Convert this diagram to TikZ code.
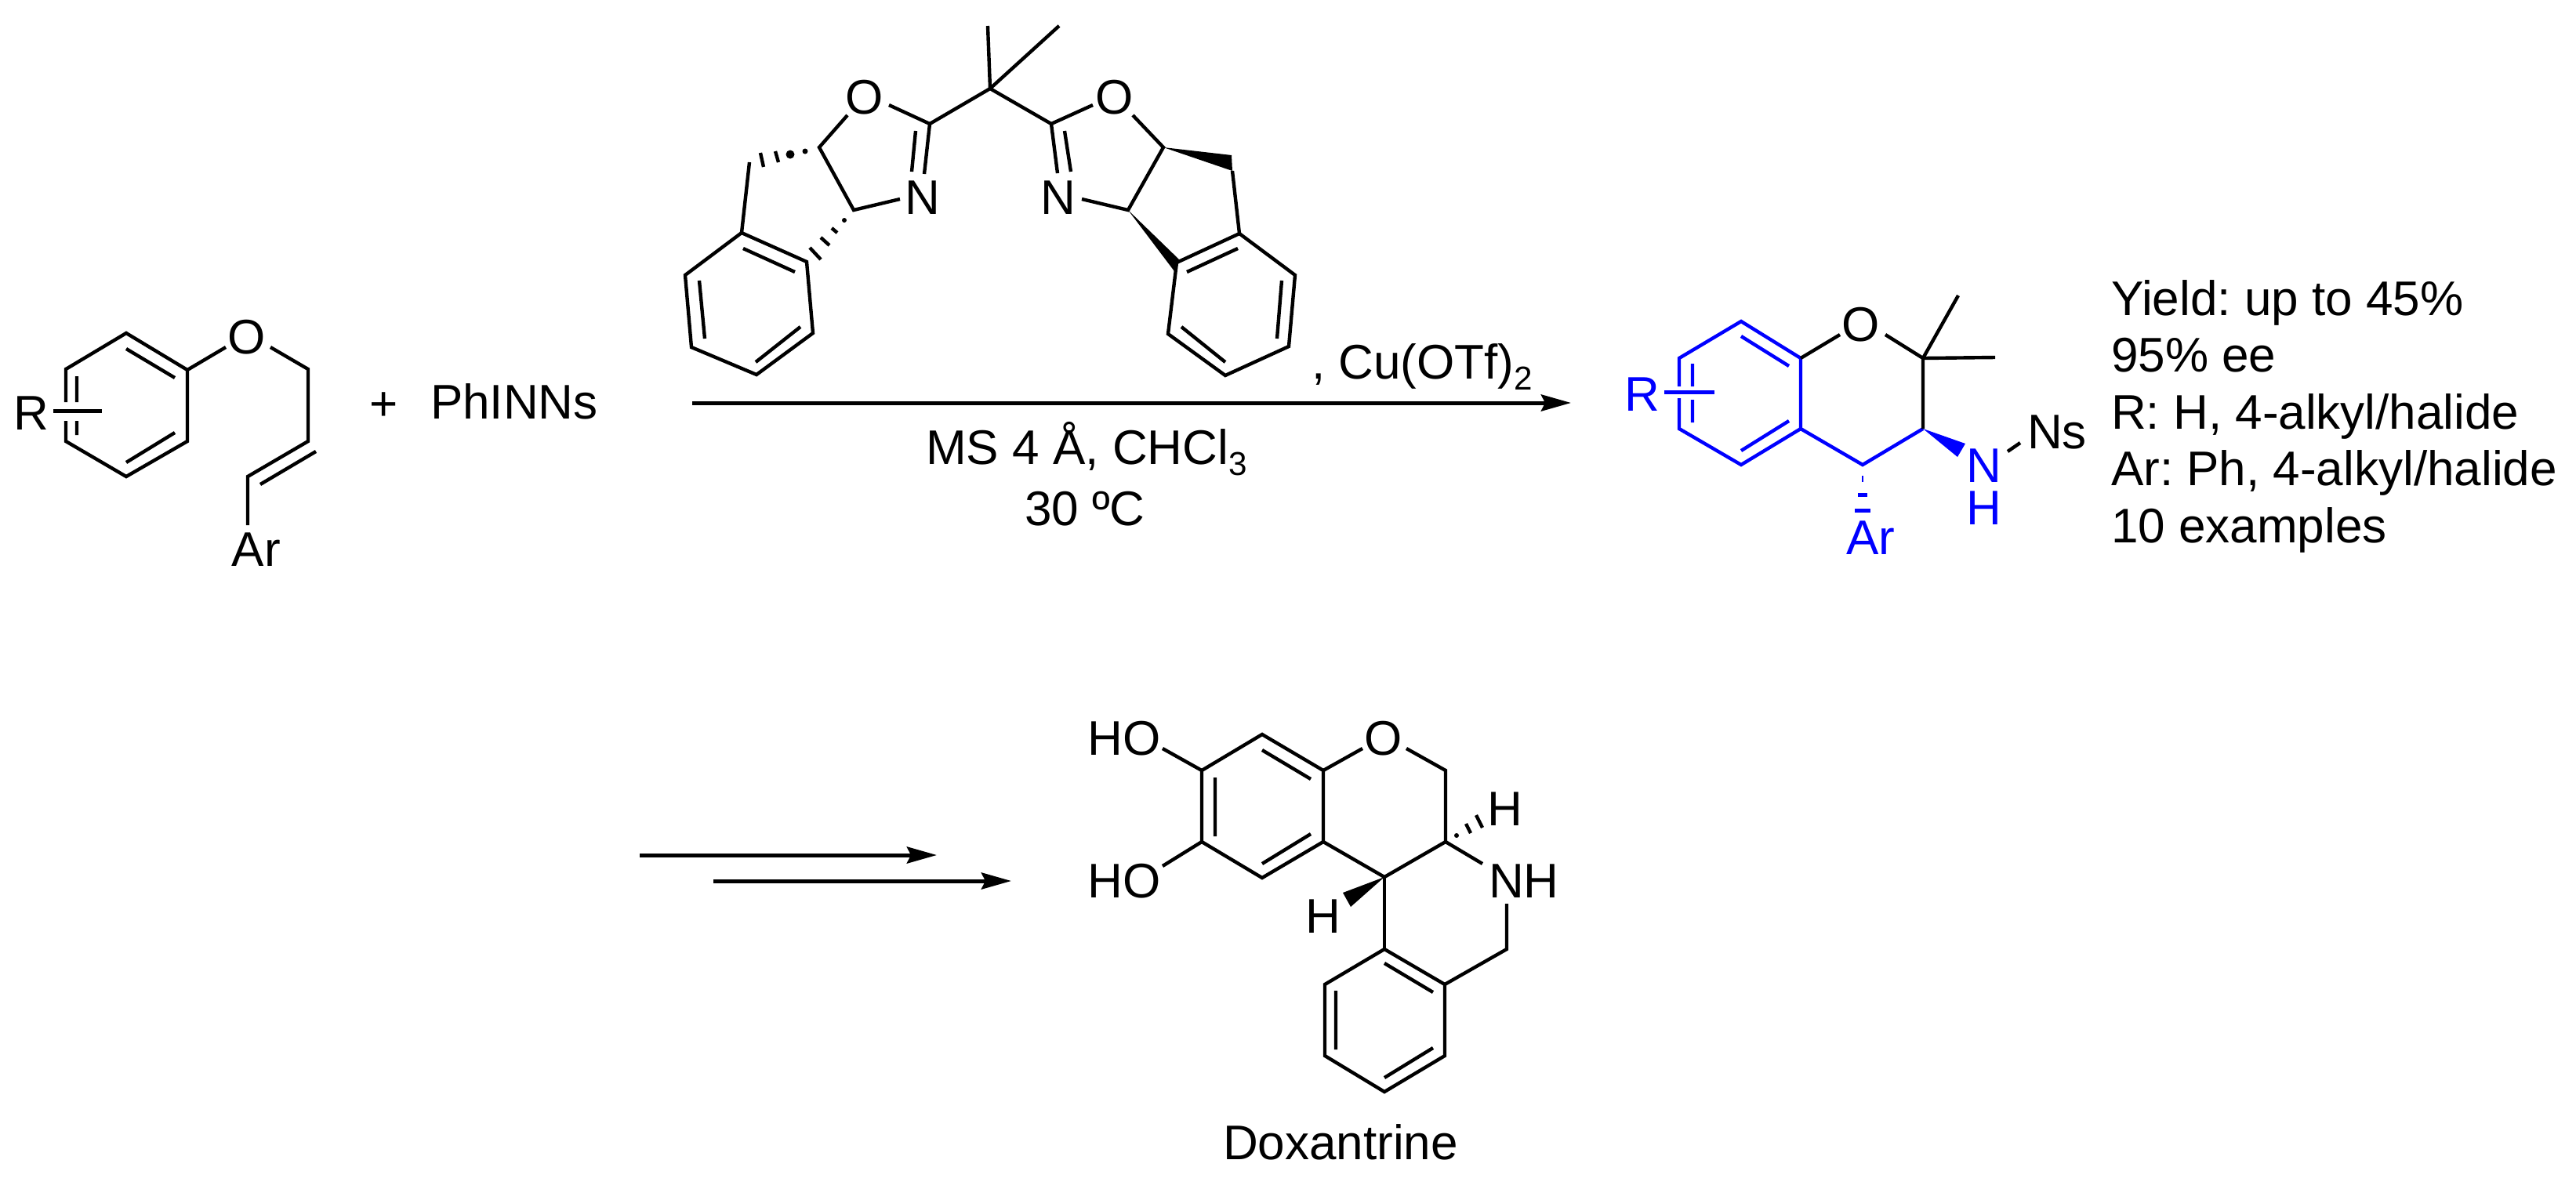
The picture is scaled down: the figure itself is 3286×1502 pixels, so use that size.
\documentclass[tikz,border=0pt]{standalone}
\usepackage{fontspec}
\setmainfont{Liberation Sans}
\usetikzlibrary{arrows.meta}
\definecolor{chemblue}{RGB}{0,0,255}
\newcommand{\chemfont}{\fontsize{17.64}{20}\selectfont\frenchspacing}
\newcommand{\subtxt}[1]{\raisebox{-0.14cm}{\fontsize{12}{14}\selectfont #1}}
\tikzset{
  atom/.style={font=\chemfont,inner sep=0pt,outer sep=0pt,anchor=base,text=black},
  label west/.style={atom,anchor=base west},
  batom/.style={atom,text=chemblue},
  bond/.style={draw=black,line width=0.044cm,line join=miter},
  bbond/.style={draw=chemblue,line width=0.044cm,line join=miter},
  subbond/.style={line width=0.05cm},
  hashmark/.style={line width=0.044cm},
  wedgefill/.style={fill=black,draw=none},
  rxn/.style={draw=black,line width=0.05cm,-{Stealth[length=0.38cm,width=0.21cm,inset=0.05cm]}}
}
\begin{document}
\begin{tikzpicture}[x=0.01cm,y=-0.01cm]
\useasboundingbox[fill=white] (0,0) rectangle (3286,1502);

%% ---------- substrate ----------
\coordinate (A1) at (161,425); \coordinate (A2) at (239,472); \coordinate (A3) at (239,563);
\coordinate (A4) at (161,608); \coordinate (A5) at (84,563);  \coordinate (A6) at (84,471);
\coordinate (Agu) at (84,513); \coordinate (Agl) at (84,537);
\coordinate (Ai1) at (161,445); \coordinate (Ai2) at (223,482);
\coordinate (Ai3) at (223,552); \coordinate (Ai4) at (161,590);
\coordinate (Ai5) at (98,480);  \coordinate (Ai6) at (98,513);
\coordinate (Ai7) at (98,537);  \coordinate (Ai8) at (98,555);
\coordinate (Ar1) at (68,524);  \coordinate (Ar2) at (130,524);
\coordinate (Ao1) at (288,443); \coordinate (Ao2) at (345,443);
\coordinate (Ac1) at (393,471); \coordinate (Ac2) at (393,563);
\coordinate (Ac3) at (316,608); \coordinate (Ac4) at (316,670);
\coordinate (Ad1) at (403,576); \coordinate (Ad2) at (332,618);
\draw[bond] (Agu) -- (A6) -- (A1) -- (A2) -- (A3) -- (A4) -- (A5) -- (Agl);
\draw[bond] (Ai1) -- (Ai2) (Ai3) -- (Ai4) (Ai5) -- (Ai6) (Ai7) -- (Ai8);
\draw[bond,subbond] (Ar1) -- (Ar2);
\draw[bond] (A2) -- (Ao1) (Ao2) -- (Ac1) -- (Ac2) -- (Ac3) -- (Ac4) (Ad1) -- (Ad2);
\node[atom] (tR1) at (40,548) {R};
\node[atom] (tO1) at (315,451) {O};
\node[atom] (tAr1) at (327,722) {Ar};
\node[atom] (tplus) at (490,536) {+};
\node[label west] (tNs) at (549,534) {PhINNs};

%% ---------- ligand ----------
\coordinate (Lq) at (1263,113); \coordinate (Lm1) at (1260,33); \coordinate (Lm2) at (1351,33);
\coordinate (Lc1) at (1186,158); \coordinate (Lc2) at (1341,158);
% left half
\coordinate (La1) at (1134,134); \coordinate (La2) at (1081,147); \coordinate (La3) at (1045,188);
\coordinate (La4) at (1089,268); \coordinate (La5) at (1148,254);
\coordinate (La6) at (1179,222); \coordinate (La7) at (1168,167); \coordinate (La8) at (1163,219);
\coordinate (Lb0) at (956,207);
\coordinate (Lb1) at (946,297); \coordinate (Lb2) at (1029,334); \coordinate (Lb3) at (1037,425);
\coordinate (Lb4) at (965,478); \coordinate (Lb5) at (882,443); \coordinate (Lb6) at (874,351);
\coordinate (Lbi1) at (948,317); \coordinate (Lbi2) at (1014,347);
\coordinate (Lbi3) at (892,358); \coordinate (Lbi4) at (899,432);
\coordinate (Lbi5) at (1021,417); \coordinate (Lbi6) at (964,462);
% right half
\coordinate (Ra1) at (1394,134); \coordinate (Ra2) at (1445,147); \coordinate (Ra3) at (1484,188);
\coordinate (Ra4) at (1439,268); \coordinate (Ra5) at (1380,254);
\coordinate (Ra6) at (1349,221); \coordinate (Ra7) at (1358,167); \coordinate (Ra8) at (1366,219);
\coordinate (Rw1) at (1571,198); \coordinate (Rw2) at (1572,218);
\coordinate (Rb1) at (1581,298); \coordinate (Rb2) at (1501,335); \coordinate (Rb3) at (1490,426);
\coordinate (Rb4) at (1563,479); \coordinate (Rb5) at (1644,442); \coordinate (Rb6) at (1652,351);
\coordinate (Rbi1) at (1579,317); \coordinate (Rbi2) at (1514,347);
\coordinate (Rbi3) at (1635,358); \coordinate (Rbi4) at (1629,432);
\coordinate (Rbi5) at (1507,417); \coordinate (Rbi6) at (1563,462);
\coordinate (Rw3) at (1504,331); \coordinate (Rw4) at (1498,346);
\draw[bond] (Lq) -- (Lm1) (Lq) -- (Lm2) (Lc1) -- (Lq) -- (Lc2);
\draw[bond] (La1) -- (Lc1) -- (La6) (La7) -- (La8);
\draw[bond] (La2) -- (La3) -- (La4) -- (La5);
\draw[bond] (Ra1) -- (Lc2) -- (Ra6) (Ra7) -- (Ra8);
\draw[bond] (Ra2) -- (Ra3) -- (Ra4) -- (Ra5);
\draw[bond] (Lb0) -- (Lb1);
\draw[bond] (Lb1) -- (Lb2) -- (Lb3) -- (Lb4) -- (Lb5) -- (Lb6) -- cycle;
\draw[bond] (Lbi1) -- (Lbi2) (Lbi3) -- (Lbi4) (Lbi5) -- (Lbi6);
\draw[bond] (Rw2) -- (Rb1);
\draw[bond] (Rb1) -- (Rb2) -- (Rb3) -- (Rb4) -- (Rb5) -- (Rb6) -- cycle;
\draw[bond] (Rbi1) -- (Rbi2) (Rbi3) -- (Rbi4) (Rbi5) -- (Rbi6);
\path[wedgefill] (Ra3) -- (Rw1) -- (Rw2) -- cycle;
\path[wedgefill] (Ra4) -- (Rw3) -- (Rw4) -- cycle;
% hashed bonds, left half
\coordinate (Lh1) at (1027,193); \coordinate (Lh2) at (1008,197);
\coordinate (Lh3a) at (989,193); \coordinate (Lh3b) at (993,207);
\coordinate (Lh4a) at (970,195); \coordinate (Lh4b) at (974,213);
\coordinate (Lh5) at (1077,281); \coordinate (Lh6a) at (1061,291); \coordinate (Lh6b) at (1068,297);
\coordinate (Lh7a) at (1047,303); \coordinate (Lh7b) at (1058,313);
\coordinate (Lh8a) at (1033,316); \coordinate (Lh8b) at (1047,331);
\fill (Lh1) circle (3.5);
\fill (Lh2) circle (5.5);
\fill (Lh5) circle (3);
\draw[hashmark] (Lh3a) -- (Lh3b) (Lh4a) -- (Lh4b);
\draw[hashmark] (Lh6a) -- (Lh6b) (Lh7a) -- (Lh7b) (Lh8a) -- (Lh8b);
\node[atom] (tLO) at (1103,145) {O};
\node[atom] (tRO) at (1422,145) {O};
\node[atom] (tLN) at (1177,273) {N};
\node[atom] (tRN) at (1350,273) {N};

%% ---------- main arrow ----------
\coordinate (m1) at (883,514); \coordinate (m2) at (2004,514);
\draw[rxn] (m1) -- (m2);
\node[label west] (tCu) at (1673,483) {, Cu(OTf)\subtxt{2}};
\node[atom] (tMS) at (1386,592) {MS 4 Å, CHCl\subtxt{3}};
\node[atom] (tT) at (1384,670) {30 ºC};

%% ---------- product ----------
\coordinate (P1) at (2221,410); \coordinate (P2) at (2297,457); \coordinate (P3) at (2297,547);
\coordinate (P4) at (2221,593); \coordinate (P5) at (2142,547); \coordinate (P6) at (2142,457);
\coordinate (Pgu) at (2142,493); \coordinate (Pgl) at (2142,508);
\coordinate (Pi1) at (2221,429); \coordinate (Pi2) at (2282,467);
\coordinate (Pi3) at (2282,537); \coordinate (Pi4) at (2221,575);
\coordinate (Pi5) at (2159,464); \coordinate (Pi6) at (2159,493);
\coordinate (Pi7) at (2159,510); \coordinate (Pi8) at (2159,539);
\coordinate (Pr1) at (2123,500); \coordinate (Pr2) at (2187,500);
\coordinate (Po1) at (2347,427); \coordinate (Po2) at (2405,427);
\coordinate (Pc1) at (2453,457); \coordinate (Pm1) at (2498,377); \coordinate (Pm2) at (2545,456);
\coordinate (Pc2) at (2453,547); \coordinate (Pc3) at (2376,593);
\coordinate (Pw1) at (2507,566); \coordinate (Pw2) at (2497,583);
\coordinate (Pn1) at (2561,576); \coordinate (Pn2) at (2577,565);
\coordinate (Ph1a) at (2376,607); \coordinate (Ph1b) at (2376,615);
\coordinate (Ph2a) at (2370,631.5); \coordinate (Ph2b) at (2382,631.5);
\coordinate (Ph3a) at (2366,651.5); \coordinate (Ph3b) at (2386,651.5);
\draw[bbond] (Pgu) -- (P6) -- (P1) -- (P2) -- (P3) -- (P4) -- (P5) -- (Pgl);
\draw[bbond] (P3) -- (Pc3) -- (Pc2);
\draw[bbond] (Pi1) -- (Pi2) (Pi3) -- (Pi4) (Pi5) -- (Pi6) (Pi7) -- (Pi8);
\draw[bbond,subbond] (Pr1) -- (Pr2);
\draw[bond] (P2) -- (Po1) (Po2) -- (Pc1) -- (Pc2);
\draw[bond] (Pc1) -- (Pm1) (Pc1) -- (Pm2) (Pn1) -- (Pn2);
\path[fill=chemblue] (Pc2) -- (Pw1) -- (Pw2) -- cycle;
\draw[draw=chemblue,line width=0.025cm] (Ph1a) -- (Ph1b);
\draw[draw=chemblue,line width=0.05cm] (Ph2a) -- (Ph2b) (Ph3a) -- (Ph3b);
\node[batom] (tPR) at (2095,524) {R};
\node[atom] (tPO) at (2374,435) {O};
\node[batom,align=center,anchor=south,font=\fontsize{17.64}{15.08}\selectfont] (tPNH) at (2531,669) {N\\H};
\node[atom] (tPNs) at (2624,572) {Ns};
\node[batom] (tPAr) at (2386,707) {Ar};
\node[label west] (y1) at (2693,402) {Yield: up to 45\%};
\node[label west] (y2) at (2693,474) {95\% ee};
\node[label west] (y3) at (2693,547) {R: H, 4-alkyl/halide};
\node[label west] (y4) at (2693,619) {Ar: Ph, 4-alkyl/halide};
\node[label west] (y5) at (2693,692) {10 examples};

%% ---------- double arrow ----------
\coordinate (s1) at (816,1091); \coordinate (s2) at (1195,1091);
\coordinate (s3) at (910,1124); \coordinate (s4) at (1290,1124);
\draw[rxn] (s1) -- (s2);
\draw[rxn] (s3) -- (s4);

%% ---------- doxantrine ----------
\coordinate (D1) at (1610,937); \coordinate (D2) at (1688,983); \coordinate (D3) at (1688,1074);
\coordinate (D4) at (1610,1120); \coordinate (D5) at (1533,1074); \coordinate (D6) at (1533,983);
\coordinate (Di1) at (1610,957); \coordinate (Di2) at (1672,994);
\coordinate (Di3) at (1672,1064); \coordinate (Di4) at (1610,1102);
\coordinate (Di5) at (1550,992); \coordinate (Di6) at (1550,1067);
\coordinate (Dho1) at (1483,955); \coordinate (Dho2) at (1483,1105);
\coordinate (Do1) at (1738,955); \coordinate (Do2) at (1794,955);
\coordinate (Dc1) at (1844,983); \coordinate (Dc2) at (1844,1074); \coordinate (Dc3) at (1766,1119);
\coordinate (Dn1) at (1891,1102); \coordinate (Dn2) at (1922,1153);
\coordinate (Dc4) at (1922,1211); \coordinate (E1) at (1766,1211); \coordinate (E2) at (1843,1256);
\coordinate (E3) at (1843,1347); \coordinate (E4) at (1766,1393); \coordinate (E5) at (1690,1347);
\coordinate (E6) at (1690,1256);
\coordinate (Ei1) at (1766,1229); \coordinate (Ei2) at (1828,1266);
\coordinate (Ei3) at (1828,1337); \coordinate (Ei4) at (1766,1375);
\coordinate (Ei5) at (1704,1264); \coordinate (Ei6) at (1704,1339);
\coordinate (Dw1) at (1713,1139); \coordinate (Dw2) at (1723,1157);
\coordinate (Dh0) at (1858,1066);
\coordinate (Dh1a) at (1870,1051); \coordinate (Dh1b) at (1876,1063);
\coordinate (Dh2a) at (1883,1040); \coordinate (Dh2b) at (1891,1056);
\draw[bond] (D1) -- (D2) -- (D3) -- (D4) -- (D5) -- (D6) -- cycle;
\draw[bond] (Di1) -- (Di2) (Di3) -- (Di4) (Di5) -- (Di6);
\draw[bond] (D6) -- (Dho1) (D5) -- (Dho2);
\draw[bond] (D2) -- (Do1) (Do2) -- (Dc1) -- (Dc2) -- (Dc3) -- (D3);
\draw[bond] (Dc2) -- (Dn1) (Dn2) -- (Dc4) -- (E2);
\draw[bond] (Dc3) -- (E1);
\draw[bond] (E1) -- (E2) -- (E3) -- (E4) -- (E5) -- (E6) -- cycle;
\draw[bond] (Ei1) -- (Ei2) (Ei3) -- (Ei4) (Ei5) -- (Ei6);
\path[wedgefill] (Dc3) -- (Dw1) -- (Dw2) -- cycle;
\fill (Dh0) circle (3);
\draw[hashmark] (Dh1a) -- (Dh1b) (Dh2a) -- (Dh2b);
\node[atom] (tHO1) at (1434,963) {HO};
\node[atom] (tHO2) at (1434,1145) {HO};
\node[atom] (tDO) at (1765,963) {O};
\node[atom] (tDH1) at (1920,1053) {H};
\node[label west] (tDNH) at (1899,1145) {NH};
\node[atom] (tDH2) at (1688,1190) {H};
\node[atom] (tDox) at (1710,1479) {Doxantrine};
\end{tikzpicture}
\end{document}
